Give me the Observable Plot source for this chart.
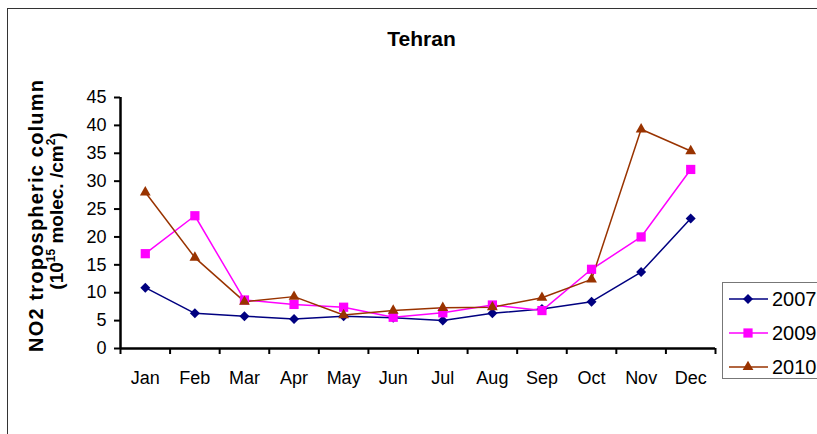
<!DOCTYPE html>
<html>
<head>
<meta charset="utf-8">
<script src="https://cdn.jsdelivr.net/npm/d3@7"></script>
<script src="https://cdn.jsdelivr.net/npm/@observablehq/plot@0.6"></script>
<style>
  html, body { margin: 0; padding: 0; background: #fff; }
  #wrap { position: relative; width: 817px; height: 434px; overflow: hidden; background: #fff; font-family: "Liberation Sans", Arial, sans-serif; }
  #frame { position: absolute; left: 7px; top: 8px; width: 900px; height: 500px; border: 1px solid #333; box-sizing: border-box; }
  #title { position: absolute; left: 0; top: 28px; width: 843px; text-align: center; font-weight: bold; font-size: 21px; line-height: 21px; color: #000; }
  #chart { position: absolute; left: 0; top: 0; }
  #ytitle { position: absolute; left: 0; top: 0; }
  #legend { position: absolute; left: 722px; top: 282px; }
</style>
</head>
<body>
<div id="wrap">
  <div id="frame"></div>
  <div id="chart"></div>
  <div id="title">Tehran</div>
  <svg id="ytitle" width="110" height="434" font-family="Liberation Sans, Arial, sans-serif" font-weight="bold" fill="#000">
    <text transform="translate(43,216) rotate(-90)" text-anchor="middle" font-size="20" textLength="272" lengthAdjust="spacing">NO2 tropospheric column</text>
    <text transform="translate(63,211) rotate(-90)" text-anchor="middle" font-size="19">(10<tspan font-size="12" dy="-8">15</tspan><tspan dy="8"> molec. /cm</tspan><tspan font-size="12" dy="-8">2</tspan><tspan dy="8">)</tspan></text>
  </svg>
  <svg id="legend" width="120" height="97"></svg>
</div>
<script>
const months = ["Jan","Feb","Mar","Apr","May","Jun","Jul","Aug","Sep","Oct","Nov","Dec"];
const years = ["2007","2009","2010"];
const no2_2007 = [10.9, 6.3, 5.8, 5.3, 5.8, 5.5, 5.0, 6.3, 7.1, 8.4, 13.7, 23.3];
const no2_2009 = [17.0, 23.8, 8.7, 7.9, 7.4, 5.6, 6.4, 7.8, 6.8, 14.2, 20.0, 32.1];
const no2_2010 = [28.0, 16.3, 8.4, 9.3, 6.0, 6.8, 7.3, 7.4, 9.1, 12.4, 39.3, 35.4];
const yTicks = [0, 5, 10, 15, 20, 25, 30, 35, 40, 45];
const colors = ["#000080", "#FF00FF", "#993300"];
const symbols = ["diamond2", "square", "triangle"];
const radii = [4.5, 5.2, 4.0];

const series = [no2_2007, no2_2009, no2_2010];
const data = years.flatMap((yr, k) => series[k].map((v, i) => ({i, month: months[i], year: yr, v})));
const boundaries = months.map((m, i) => i - 0.5).concat([months.length - 0.5]);

const chart = Plot.plot({
  width: 817,
  height: 434,
  marginLeft: 120,
  marginRight: 102,
  marginTop: 97,
  marginBottom: 86,
  x: {type: "linear", domain: [-0.5, months.length - 0.5]},
  y: {domain: [0, 45]},
  color: {domain: years, range: colors},
  style: {fontFamily: "Liberation Sans, Arial, sans-serif", fontSize: "18px", color: "#000", background: "transparent", overflow: "visible"},
  marks: [
    Plot.axisY({ticks: yTicks, tickSize: 6, tickPadding: 8, tickFormat: d => String(d), label: null, strokeWidth: 2, fontSize: 18}),
    Plot.axisX({ticks: boundaries, tickSize: 6, tickFormat: () => "", label: null, strokeWidth: 2}),
    Plot.axisX({ticks: months.map((m, i) => i), tickSize: 0, tickPadding: 23, tickFormat: i => months[i], label: null, fontSize: 18}),
    Plot.ruleX([-0.5], {stroke: "#000", strokeWidth: 2.5}),
    Plot.ruleY([0], {stroke: "#000", strokeWidth: 2.5}),
    Plot.line(data, {x: "i", y: "v", z: "year", stroke: "year", strokeWidth: 1.5}),
    ...years.map((yr, k) => Plot.dot(data.filter(d => d.year === yr), {x: "i", y: "v", symbol: symbols[k], fill: colors[k], stroke: "none", r: radii[k]}))
  ]
});
document.getElementById("chart").appendChild(chart);

// Legend
const lg = d3.select("#legend");
lg.append("rect").attr("x", 0.5).attr("y", 0.5).attr("width", 130).attr("height", 96).attr("fill", "#fff").attr("stroke", "#777");
const d3sym = {diamond2: d3.symbolDiamond2, square: d3.symbolSquare, triangle: d3.symbolTriangle};
years.forEach((yr, k) => {
  const cy = 17 + k * 34;
  const g = lg.append("g").attr("transform", `translate(0,${cy})`);
  g.append("line").attr("x1", 7).attr("x2", 46).attr("y1", 0).attr("y2", 0).attr("stroke", colors[k]).attr("stroke-width", 1.5);
  g.append("path").attr("transform", "translate(26,0)").attr("d", d3.symbol(d3sym[symbols[k]], Math.PI * radii[k] * radii[k])()).attr("fill", colors[k]);
  g.append("text").attr("x", 50).attr("y", 0).attr("dy", "0.36em").attr("font-size", 20).attr("font-family", "Liberation Sans, Arial, sans-serif").attr("fill", "#000").text(yr);
});
</script>
</body>
</html>
